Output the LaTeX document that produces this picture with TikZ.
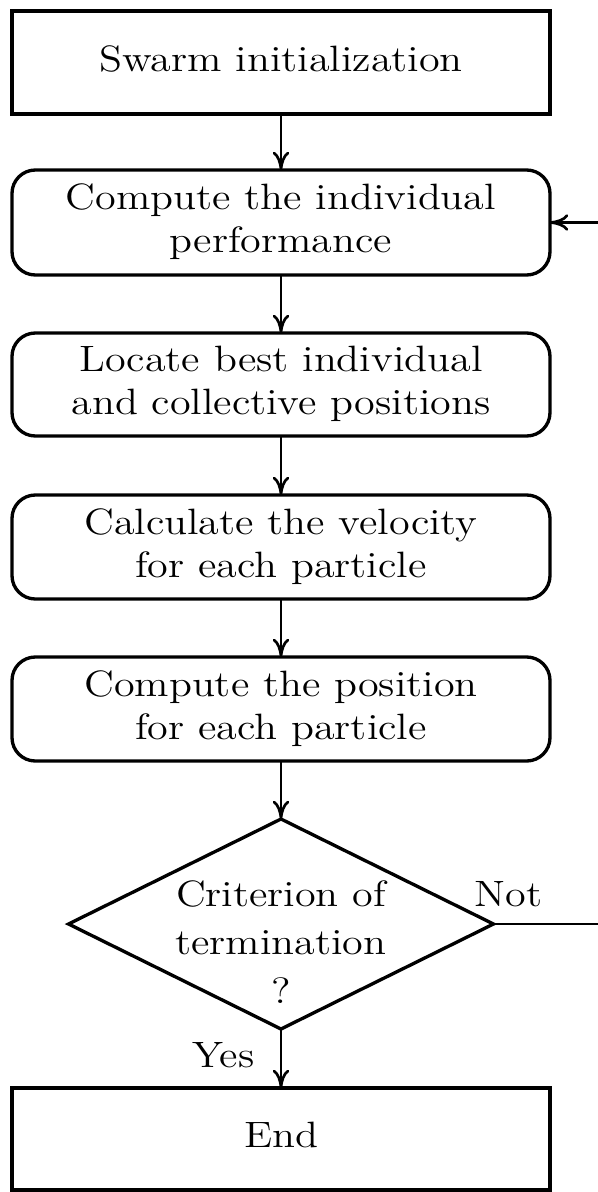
\documentclass[tikz,border=0pt]{standalone}
\usepackage{graphicx}
\usetikzlibrary{shapes.geometric,arrows.meta}
\newcommand{\hs}[1]{\scalebox{1.15}[1]{\begin{tabular}{@{}c@{}}#1\end{tabular}}}
\newcommand{\hx}[1]{\scalebox{1.15}[1]{#1}}
\begin{document}
\begin{tikzpicture}[x=0.3pt,y=-0.3pt,
  box/.style={draw, line width=1.2pt, rectangle, minimum width=161.4pt, minimum height=31pt, inner sep=0pt, outer sep=0pt, font=\fontsize{11}{13}\selectfont},
  rbox/.style={box, line width=1pt, rounded corners=7pt},
  dec/.style={draw, diamond, line width=1pt, minimum width=127.5pt, minimum height=63pt, inner sep=0pt, outer sep=0pt},
  lbl/.style={font=\fontsize{11}{13}\selectfont, inner sep=0pt},
  dlbl/.style={font=\fontsize{11}{14.5}\selectfont, inner sep=0pt},
  flow/.style={line width=0.8pt, -{To[length=5.5pt,width=5pt]}},
]
\clip (0,0) rectangle (598,1192);
\node[box, minimum height=30.9pt] (b1) at (281,62.5) {\hs{Swarm initialization}};
\node[rbox, minimum height=31.5pt] (b2) at (281,222.5) {\hs{Compute the individual\\performance}};
\node[rbox, minimum height=30.9pt] (b3) at (281,384.5) {\hs{Locate best individual\\and collective positions}};
\node[rbox, minimum height=31.2pt] (b4) at (281,547) {\hs{Calculate the velocity\\for each particle}};
\node[rbox, minimum height=31.2pt] (b5) at (281,709) {\hs{Compute the position\\for each particle}};
\node[dec] (d) at (281,924) {};
\node[dlbl] (dt) at (281,945) {\hs{Criterion of\\termination\\?}};
\node[box, minimum height=30.6pt] (e) at (281,1139) {\hs{End}};
\draw[flow] (b1) -- (b2);
\draw[flow] (b2) -- (b3);
\draw[flow] (b3) -- (b4);
\draw[flow] (b4) -- (b5);
\draw[flow] (b5) -- (d);
\draw[flow] (d) -- (e);
\coordinate (fa) at (640,924);
\coordinate (fb) at (640,222.5);
\draw[flow] (d.east) -- (fa) -- (fb) -- (b2.east);
\node[lbl, anchor=base west] (no) at (474,906) {\hx{Not}};
\node[lbl, anchor=base east] (yes) at (255,1067) {\hx{Yes}};
\end{tikzpicture}
\end{document}
